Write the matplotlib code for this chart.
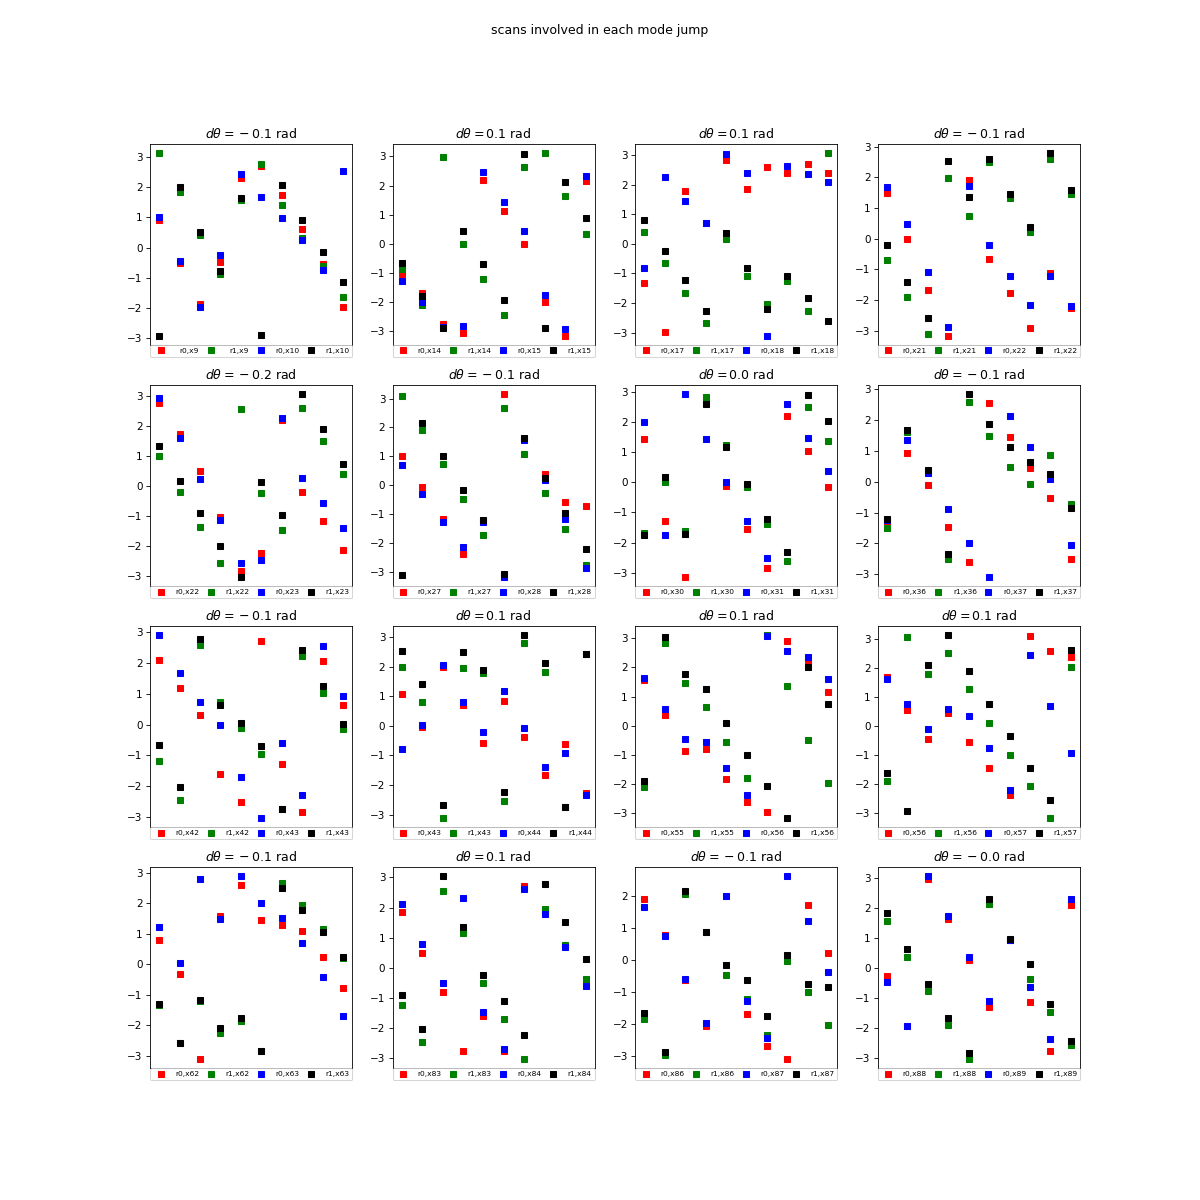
import numpy as np
import matplotlib
matplotlib.use("Agg")
import matplotlib.pyplot as plt

# scan pairs and phase offsets of each panel
scan_a = [9, 14, 17, 21, 22, 27, 30, 36, 42, 43, 55, 56, 62, 83, 86, 88]
scan_b = [10, 15, 18, 22, 23, 28, 31, 37, 43, 44, 56, 57, 63, 84, 87, 89]
dtheta = [-0.1, 0.1, 0.1, -0.1, -0.2, -0.1, 0.0, -0.1,
          -0.1, 0.1, 0.1, 0.1, -0.1, 0.1, -0.1, -0.04]

# phases: r0 of scan a (red), r1 of scan a (green),
# r0 of scan b (blue), r1 of scan b (black)
p1_red = [0.9, -0.52, -1.86, -0.48, 2.31, 2.71, 1.73, 0.63, -0.54, -1.96]
p1_green = [3.13, 1.83, 0.43, -0.86, 1.57, 2.76, 1.4, 0.33, -0.6, -1.62]
p1_blue = [1.0, -0.43, -1.97, -0.26, 2.43, 1.67, 0.97, 0.24, -0.73, 2.55]
p1_black = [-2.92, 2.0, 0.53, -0.79, 1.63, -2.89, 2.07, 0.91, -0.13, -1.13]

p2_red = [-1.04, -1.7, -2.74, -3.06, 2.19, 1.13, 0.0, -2.0, -3.15, 2.16]
p2_green = [-0.87, -2.1, 2.98, 0.0, -1.19, -2.45, 2.63, 3.11, 1.64, 0.35]
p2_blue = [-1.29, -2.0, -2.85, -2.8, 2.46, 1.44, 0.45, -1.77, -2.93, 2.32]
p2_black = [-0.65, -1.78, -2.9, 0.45, -0.68, -1.94, 3.08, -2.9, 2.12, 0.89]

p3_red = [-1.33, -2.98, 1.78, 0.7, 2.82, 1.84, 2.58, 2.4, 2.69, 2.38]
p3_green = [0.39, -0.65, -1.66, -2.66, 0.18, -1.09, -2.02, -1.26, -2.27, 3.06]
p3_blue = [-0.82, 2.25, 1.44, 0.7, 3.02, 2.38, -3.1, 2.64, 2.35, 2.08]
p3_black = [0.8, -0.25, -1.22, -2.27, 0.38, -0.82, -2.19, -1.09, -1.83, -2.61]

p4_red = [1.5, 0.0, -1.66, -3.16, 1.9, -0.65, -1.76, -2.9, -1.11, -2.27]
p4_green = [-0.68, -1.89, -3.09, 1.99, 0.75, 2.51, 1.33, 0.21, 2.61, 1.46]
p4_blue = [1.7, 0.49, -1.08, -2.87, 1.73, -0.2, -1.21, -2.15, -1.21, -2.2]
p4_black = [-0.2, -1.4, -2.58, 2.54, 1.37, 2.61, 1.46, 0.39, 2.79, 1.6]

p5_red = [2.79, 1.73, 0.5, -1.03, -2.84, -2.22, 2.2, -0.2, -1.17, -2.13]
p5_green = [1.0, -0.2, -1.37, -2.57, 2.57, -0.23, -1.47, 2.6, 1.5, 0.4]
p5_blue = [2.94, 1.6, 0.23, -1.13, -2.57, -2.47, 2.27, 0.27, -0.57, -1.4]
p5_black = [1.33, 0.19, -0.9, -2.0, -3.02, 0.14, -0.97, 3.07, 1.9, 0.73]

p6_red = [1.02, -0.05, -1.16, -2.38, -1.23, 3.15, 1.6, 0.4, -0.56, -0.73]
p6_green = [3.08, 1.91, 0.74, -0.46, -1.7, 2.67, 1.09, -0.25, -1.52, -2.75]
p6_blue = [0.71, -0.29, -1.25, -2.14, -1.25, -3.16, 1.56, 0.19, -1.18, -2.85]
p6_black = [-3.1, 2.15, 1.02, -0.15, -1.21, -3.07, 1.64, 0.26, -0.97, -2.21]

p7_red = [1.43, -1.28, -3.13, 2.65, -0.13, -1.54, -2.83, 2.19, 1.04, -0.15]
p7_green = [-1.69, 0.0, -1.61, 2.82, 1.23, -0.17, -1.39, -2.6, 2.49, 1.37]
p7_blue = [2.0, -1.74, 2.92, 1.43, 0.0, -1.28, -2.5, 2.59, 1.47, 0.37]
p7_black = [-1.74, 0.18, -1.71, 2.6, 1.18, -0.06, -1.21, -2.3, 2.89, 2.03]

p8_red = [-1.27, 0.93, -0.11, -1.47, -2.6, 2.54, 1.44, 0.43, -0.53, -2.5]
p8_green = [-1.49, 1.6, 0.33, -2.52, 2.58, 1.48, 0.47, -0.08, 0.86, -0.73]
p8_blue = [-1.25, 1.35, 0.27, -0.88, -1.98, -3.08, 2.12, 1.12, 0.09, -2.05]
p8_black = [-1.21, 1.67, 0.38, -2.34, 2.83, 1.86, 1.12, 0.64, 0.25, -0.87]

p9_red = [2.09, 1.18, 0.31, -1.61, -2.51, 2.71, -1.28, -2.84, 2.06, 0.63]
p9_green = [-1.18, -2.45, 2.58, 0.73, -0.11, -0.96, -2.74, 2.21, 1.02, -0.16]
p9_blue = [2.9, 1.67, 0.73, -0.02, -1.7, -3.03, -0.6, -2.29, 2.54, 0.92]
p9_black = [-0.66, -2.03, 2.77, 0.63, 0.06, -0.7, -2.74, 2.41, 1.25, 0.02]

p10_red = [1.08, -0.02, 1.98, 0.71, -0.57, 0.84, -0.37, -1.66, -0.61, -2.26]
p10_green = [1.99, 0.81, -3.11, 1.96, 1.8, -2.53, 2.8, 1.82, -2.74, 2.43]
p10_blue = [-0.78, 0.03, 2.06, 0.81, -0.2, 1.18, -0.07, -1.39, -0.91, -2.33]
p10_black = [2.53, 1.42, -2.67, 2.5, 1.89, -2.23, 3.07, 2.13, -2.74, 2.43]

p11_red = [1.58, 0.38, -0.86, -0.79, -1.82, -2.61, -2.95, 2.91, 2.22, 1.17]
p11_green = [-2.09, 2.82, 1.47, 0.65, -0.55, -1.78, 3.1, 1.37, -0.48, -1.95]
p11_blue = [1.65, 0.58, -0.45, -0.55, -1.44, -2.37, 3.09, 2.57, 2.37, 1.61]
p11_black = [-1.89, 3.05, 1.78, 1.27, 0.1, -0.99, -2.06, -3.15, 2.02, 0.75]

p12_red = [1.7, 0.57, -0.45, 0.45, -0.55, -1.44, -2.37, 3.09, 2.58, 2.37]
p12_green = [-1.89, 3.06, 1.79, 2.51, 1.27, 0.1, -1.0, -2.06, -3.16, 2.03]
p12_blue = [1.62, 0.76, -0.1, 0.58, 0.34, -0.76, -2.2, 2.44, 0.69, -0.93]
p12_black = [-1.62, -2.92, 2.1, 3.13, 1.89, 0.76, -0.34, -1.44, -2.54, 2.61]

p13_red = [0.79, -0.33, -3.11, 1.57, 2.59, 1.44, 1.28, 1.08, 0.23, -0.79]
p13_green = [-1.35, -2.6, -1.21, -2.27, -1.85, -2.85, 2.66, 1.93, 1.15, 0.2]
p13_blue = [1.21, 0.03, 2.79, 1.48, 2.89, 2.0, 1.51, 0.69, -0.43, -1.7]
p13_black = [-1.31, -2.59, -1.18, -2.1, -1.77, -2.85, 2.52, 1.77, 1.05, 0.23]

p14_red = [1.85, 0.49, -0.81, -2.76, -1.6, -2.76, 2.71, 1.85, 0.73, -0.5]
p14_green = [-1.24, -2.46, 2.54, 1.15, -0.51, -1.7, -3.03, 1.94, 0.77, -0.38]
p14_blue = [2.11, 0.78, -0.51, 2.31, -1.47, -2.7, 2.61, 1.78, 0.69, -0.61]
p14_black = [-0.91, -2.03, 3.04, 1.35, -0.24, -1.1, -2.23, 2.77, 1.51, 0.29]

p15_red = [1.91, 0.8, -0.63, -2.07, 2.0, -1.69, -2.69, -3.09, 1.72, 0.22]
p15_green = [-1.84, -2.97, 2.09, 0.88, -0.47, -1.22, -2.34, -0.03, -1.0, -2.03]
p15_blue = [1.66, 0.75, -0.59, -1.97, 2.0, -1.27, -2.44, 2.63, 1.22, -0.38]
p15_black = [-1.66, -2.88, 2.16, 0.88, -0.16, -0.63, -1.75, 0.16, -0.75, -0.84]

p16_red = [-0.28, -1.95, 2.97, 1.64, 0.27, -1.3, 0.95, -1.14, -2.77, 2.1]
p16_green = [1.57, 0.37, -0.77, -1.9, -3.04, 2.14, 0.94, -0.37, -1.47, -2.57]
p16_blue = [-0.48, -1.94, 3.07, 1.74, 0.37, -1.1, 0.95, -0.63, -2.37, 2.31]
p16_black = [1.84, 0.63, -0.53, -1.67, -2.84, 2.31, 0.97, 0.13, -1.2, -2.44]

panels = [
    (p1_red, p1_green, p1_blue, p1_black),
    (p2_red, p2_green, p2_blue, p2_black),
    (p3_red, p3_green, p3_blue, p3_black),
    (p4_red, p4_green, p4_blue, p4_black),
    (p5_red, p5_green, p5_blue, p5_black),
    (p6_red, p6_green, p6_blue, p6_black),
    (p7_red, p7_green, p7_blue, p7_black),
    (p8_red, p8_green, p8_blue, p8_black),
    (p9_red, p9_green, p9_blue, p9_black),
    (p10_red, p10_green, p10_blue, p10_black),
    (p11_red, p11_green, p11_blue, p11_black),
    (p12_red, p12_green, p12_blue, p12_black),
    (p13_red, p13_green, p13_blue, p13_black),
    (p14_red, p14_green, p14_blue, p14_black),
    (p15_red, p15_green, p15_blue, p15_black),
    (p16_red, p16_green, p16_blue, p16_black),
]

colors = ['r', 'g', 'b', 'k']


def dtheta_title(d):
    s = '%.1f' % d
    # old mathtext spaced the minus sign like a binary operator
    if s.startswith('-'):
        s = r'\:-\:' + s[1:]
    return r'$d\theta =%s$ rad' % s


fig, axes = plt.subplots(4, 4, figsize=(16, 16))
fig.suptitle('scans involved in each mode jump')

for i, ax in enumerate(axes.flat):
    a, b = scan_a[i], scan_b[i]
    labels = [f'r0,x{a}', f'r1,x{a}', f'r0,x{b}', f'r1,x{b}']
    x = np.arange(len(panels[i][0]))
    for vals, c, lab in zip(panels[i], colors, labels):
        ax.plot(x, vals, 's', color=c, label=lab)
    ax.set_xticks([])
    ax.set_title(dtheta_title(dtheta[i]))
    leg = ax.legend(loc='upper left', bbox_to_anchor=(0., 0., 1., 0.), ncol=4,
                    mode='expand', borderaxespad=0., fontsize=7.2, numpoints=1)
    # push each label to the right end of its column
    for col in leg._legend_handle_box.get_children():
        for item in col.get_children():
            item.mode = 'expand'
            item.width = 46

plt.savefig('out.png', dpi=75)
